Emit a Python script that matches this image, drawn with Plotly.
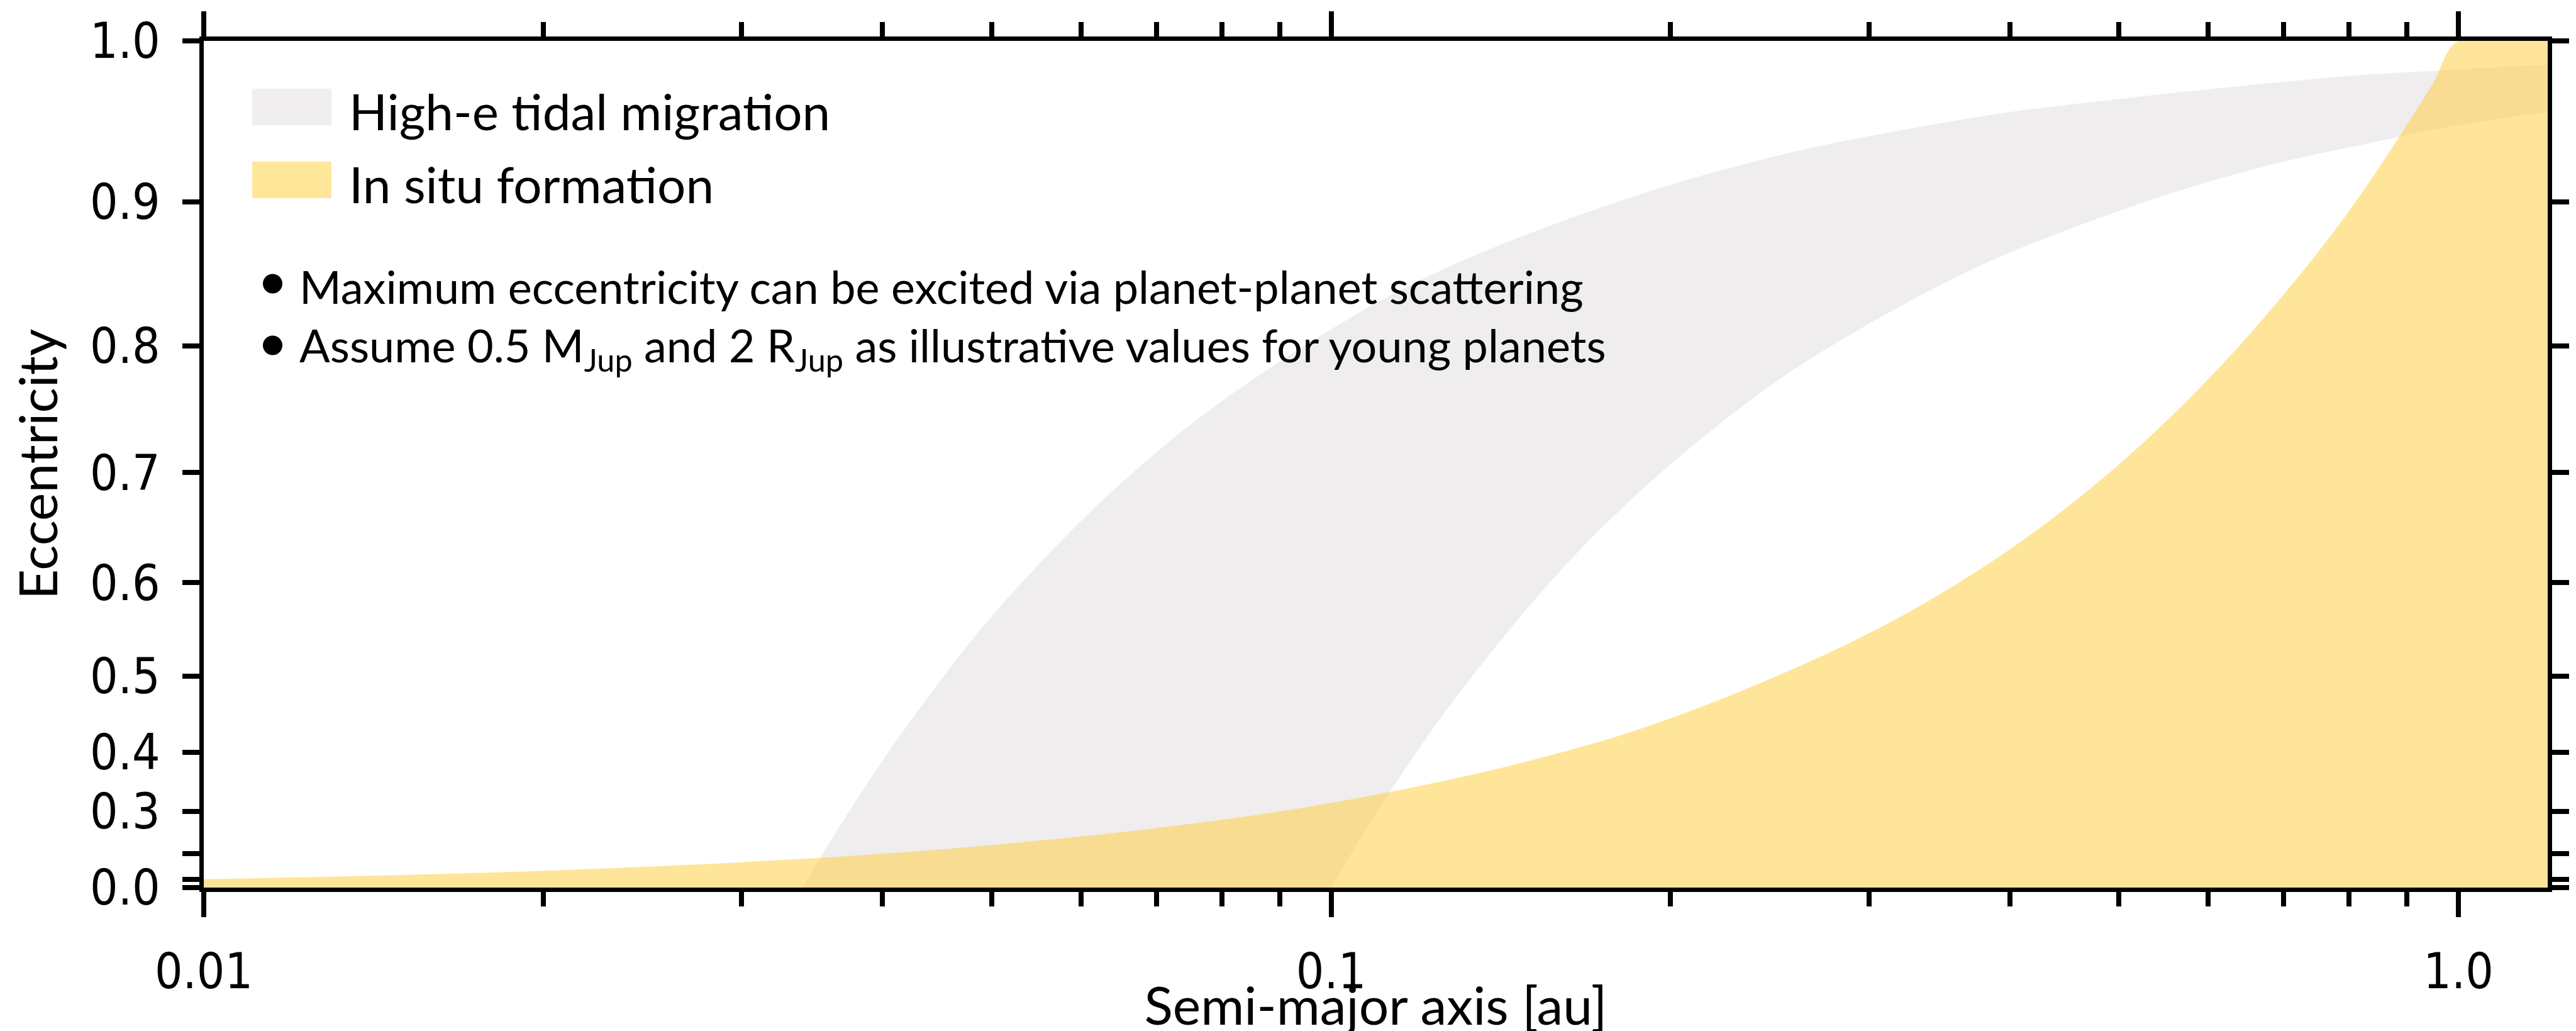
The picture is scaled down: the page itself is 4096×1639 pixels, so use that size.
import math
import plotly.graph_objects as go

# ---------------- data ----------------
# High-e tidal migration band: outer (upper) and inner (lower) boundaries
a_upper = [0.034, 0.035, 0.036, 0.038, 0.04, 0.045, 0.05, 0.06, 0.07, 0.08, 0.1,
           0.12, 0.15, 0.2, 0.25, 0.3, 0.4, 0.5, 0.6, 0.8, 1.0, 1.2]
e_upper = [0.0, 0.169, 0.236, 0.324, 0.387, 0.494, 0.566, 0.658, 0.717, 0.758, 0.812,
           0.847, 0.879, 0.911, 0.930, 0.942, 0.957, 0.965, 0.971, 0.979, 0.983, 0.986]
a_lower = [0.1, 0.105, 0.11, 0.12, 0.13, 0.15, 0.17, 0.2, 0.25, 0.3, 0.35, 0.4,
           0.5, 0.6, 0.7, 0.8, 1.0, 1.2]
e_lower = [0.0, 0.218, 0.302, 0.408, 0.480, 0.577, 0.642, 0.707, 0.775, 0.816, 0.845, 0.866,
           0.894, 0.913, 0.926, 0.935, 0.949, 0.957]
# In situ formation: maximum eccentricity from planet-planet scattering
a_insitu = [0.01, 0.015, 0.02, 0.03, 0.04, 0.05, 0.07, 0.1, 0.15, 0.2, 0.3, 0.4,
            0.5, 0.6, 0.7, 0.8, 0.9, 0.95, 1.0, 1.2]
e_insitu = [0.1, 0.122, 0.141, 0.173, 0.2, 0.224, 0.265, 0.316, 0.387, 0.447, 0.548, 0.632,
            0.707, 0.775, 0.837, 0.894, 0.949, 0.975, 1.0, 1.0]

# axis ticks
x_tickvals = [0.01, 0.1, 1.0]
x_ticktext = ["0.01", "0.1", "1.0"]
x_minor = [0.02, 0.03, 0.04, 0.05, 0.06, 0.07, 0.08, 0.09,
           0.2, 0.3, 0.4, 0.5, 0.6, 0.7, 0.8, 0.9]
e_ticks = [0.0, 0.3, 0.4, 0.5, 0.6, 0.7, 0.8, 0.9, 1.0]
e_ticktext = ["0.0", "0.3", "0.4", "0.5", "0.6", "0.7", "0.8", "0.9", "1.0"]
e_unlabelled = [0.1, 0.2]

legend_labels = ["High-e tidal migration", "In situ formation"]
notes = ["Maximum eccentricity can be excited via planet-planet scattering",
         "Assume 0.5 M<sub>Jup</sub> and 2 R<sub>Jup</sub> as illustrative values for young planets"]

GRAY = "rgba(224,220,222,0.5)"
GRAY_SOLID = "#F0EEEF"
YELLOW = "rgba(255,204,51,0.5)"
YELLOW_SOLID = "#FFE699"
FONT = "Lato"
TICKFONT = "DejaVu Sans Condensed, DejaVu Sans"


def sq(vals):
    # the eccentricity axis is drawn on a squared scale
    return [v * v for v in vals]


# ---------------- figure ----------------
W, H = 4096, 1639
L, R, T, B = 316, 4043, 57, 1403


def px(x):
    return (x - L) / (R - L)


def py(y):
    return (B - y) / (B - T)


fig = go.Figure()
fig.add_trace(go.Scatter(x=a_lower, y=sq(e_lower), mode="lines", line=dict(width=0, shape="spline"),
                         hoverinfo="skip", showlegend=False))
fig.add_trace(go.Scatter(x=a_upper, y=sq(e_upper), mode="lines", line=dict(width=0, shape="spline"),
                         fill="tonexty", fillcolor=GRAY, name=legend_labels[0], showlegend=False))
fig.add_trace(go.Scatter(x=a_insitu, y=sq(e_insitu), mode="lines", line=dict(width=0, shape="spline"),
                         fill="tozeroy", fillcolor=YELLOW, name=legend_labels[1], showlegend=False))

axis_common = dict(showline=True, linecolor="black", linewidth=6.5, mirror="ticks",
                   ticks="outside", tickcolor="black", tickwidth=7.5, showgrid=False,
                   zeroline=False, tickfont=dict(family=TICKFONT, size=78, color="black"))

fig.update_xaxes(type="log", range=[-2, math.log10(1.2)], tickmode="array",
                 tickvals=x_tickvals, ticktext=x_ticktext, ticklen=40,
                 ticklabelstandoff=20,
                 minor=dict(tickmode="array", tickvals=x_minor, ticks="outside", ticklen=23,
                            tickwidth=7.5, tickcolor="black", showgrid=False),
                 title=dict(text="Semi-major axis [au]", font=dict(family=FONT, size=84, color="black"),
                            standoff=14),
                 **axis_common)
fig.update_yaxes(range=[0, 1], tickmode="array", tickvals=sq(e_ticks), ticktext=e_ticktext,
                 ticklen=27, ticklabelstandoff=20,
                 minor=dict(tickmode="array", tickvals=sq(e_unlabelled), ticks="outside", ticklen=27,
                            tickwidth=7.5, tickcolor="black", showgrid=False),
                 title=dict(text="Eccentricity", font=dict(family=FONT, size=84, color="black"),
                            standoff=30),
                 **axis_common)

# legend (manual, to match the reference layout)
patch_colors = [GRAY_SOLID, YELLOW_SOLID]
patch_centers = [162, 278]
for lab, col, cy in zip(legend_labels, patch_colors, patch_centers):
    fig.add_shape(type="rect", xref="paper", yref="paper", x0=px(393), x1=px(519),
                  y0=py(cy + 29), y1=py(cy - 29), fillcolor=col, line=dict(width=0), layer="above")
    fig.add_annotation(xref="paper", yref="paper", x=px(545), y=py(cy + 6), text=lab,
                       showarrow=False, xanchor="left", yanchor="middle",
                       font=dict(family=FONT, size=80, color="black"))

# bullet notes
note_centers = [443, 541]
for txt, cy in zip(notes, note_centers):
    fig.add_shape(type="circle", xref="paper", yref="paper", x0=px(410), x1=px(441),
                  y0=py(cy + 15.5), y1=py(cy - 15.5), fillcolor="black", line=dict(width=0),
                  layer="above")
    fig.add_annotation(xref="paper", yref="paper", x=px(466), y=py(cy + 4), text=txt,
                       showarrow=False, xanchor="left", yanchor="middle",
                       font=dict(family=FONT, size=72, color="black"))

fig.update_layout(width=W, height=H, margin=dict(l=L, r=W - R, t=T, b=H - B, autoexpand=False),
                  paper_bgcolor="white", plot_bgcolor="white", showlegend=False,
                  font=dict(family=FONT, color="black"))

fig.write_html("out.html")
